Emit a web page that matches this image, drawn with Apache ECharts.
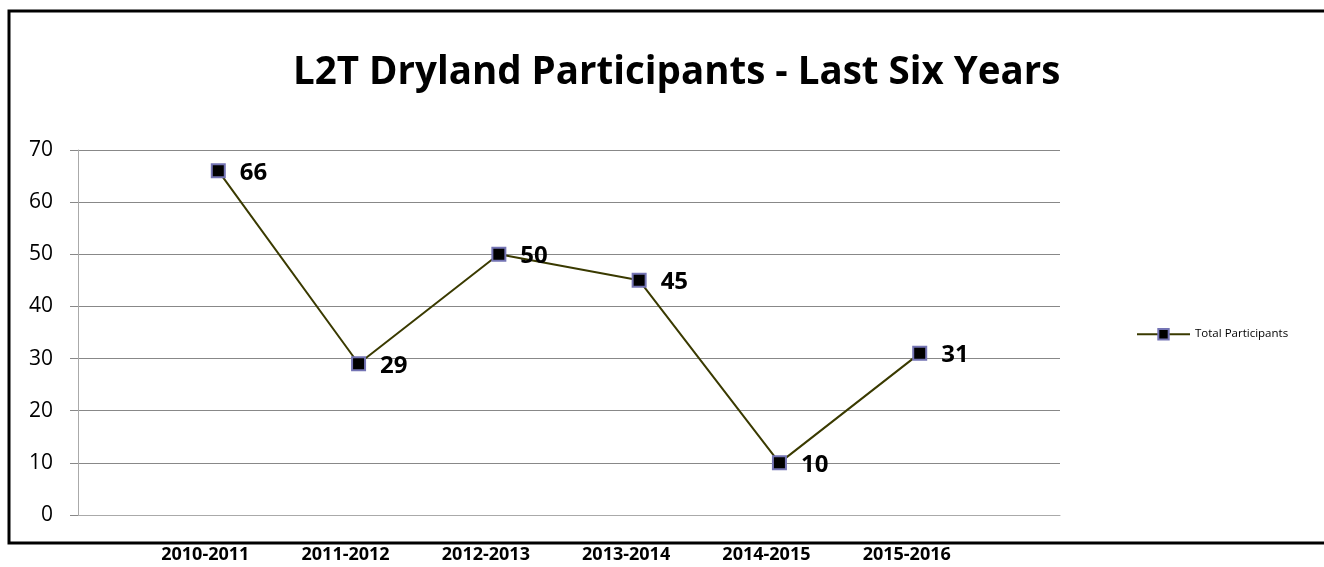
<!DOCTYPE html>
<html>
<head>
<meta charset="utf-8">
<script src="https://cdn.jsdelivr.net/npm/echarts@6/dist/echarts.min.js"></script>
<style>
html,body{margin:0;padding:0;background:#fff;}
#main{width:1324px;height:567px;}
</style>
</head>
<body>
<div id="main"></div>
<script>
// years, padded with an empty slot on each side so the points sit inside the plot
const years = ['', '2010-2011', '2011-2012', '2012-2013', '2013-2014', '2014-2015', '2015-2016', ''];
const participants = [null, 66, 29, 50, 45, 10, 31, null];
const yTicks = [0, 10, 20, 30, 40, 50, 60, 70];

const chart = echarts.init(document.getElementById('main'));

const option = {
    backgroundColor: '#fff',
    animation: false,
    textStyle: { fontFamily: 'Open Sans' },
    title: {
        text: 'L2T Dryland Participants - Last Six Years',
        left: 288,
        top: 49,
        textStyle: { fontSize: 38.5, fontWeight: 'bold', color: '#000', fontFamily: 'Open Sans' }
    },
    graphic: [{
        type: 'rect',
        shape: { x: 9, y: 11, width: 1330, height: 532 },
        style: { fill: 'none', stroke: '#000', lineWidth: 3 },
        silent: true
    }],
    legend: {
        left: 1131,
        top: 323,
        itemWidth: 53,
        itemHeight: 13,
        itemGap: 4,
        textStyle: { fontSize: 11.5, color: '#000' },
        data: ['Total Participants']
    },
    grid: { left: 78, right: 264, top: 150, bottom: 52, containLabel: false },
    xAxis: {
        type: 'category',
        data: years,
        boundaryGap: false,
        axisLine: { show: true, lineStyle: { color: '#aaa' } },
        axisTick: { show: false },
        axisLabel: {
            margin: 31,
            fontSize: 18,
            fontWeight: 'bold',
            color: '#000',
            interval: 0,
            padding: [0, 26, 0, 0]
        },
        splitLine: { show: false }
    },
    yAxis: {
        type: 'value',
        min: yTicks[0],
        max: yTicks[yTicks.length - 1],
        interval: 10,
        axisLine: { show: true, lineStyle: { color: '#aaa' } },
        axisTick: { show: true, length: 8, lineStyle: { color: '#888' } },
        axisLabel: { fontSize: 21, color: '#000', margin: 25 },
        splitLine: { show: true, lineStyle: { color: '#888', width: 1 } }
    },
    series: [{
        name: 'Total Participants',
        type: 'line',
        data: participants,
        connectNulls: false,
        symbol: 'rect',
        symbolSize: 13,
        lineStyle: { color: '#3a3a00', width: 2 },
        itemStyle: { color: '#000', borderColor: '#7474b4', borderWidth: 2 },
        label: {
            show: true,
            position: 'right',
            distance: 14,
            offset: [0, 2],
            fontSize: 24,
            fontWeight: 'bold',
            color: '#000'
        }
    }]
};

chart.setOption(option);
</script>
</body>
</html>
